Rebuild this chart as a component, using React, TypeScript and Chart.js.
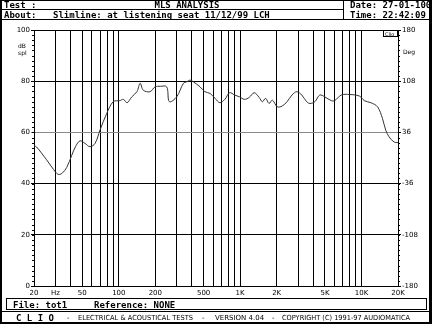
import React, { useEffect, useRef } from "react";
import { Chart, registerables } from "chart.js";

Chart.register(...registerables);

const freqHz = [
  20, 21, 23, 25.4, 28, 30, 31.7, 34, 37.2, 40.9, 44, 47.9, 52.7, 57.9, 63.7, 70, 79.5, 90,
  102, 109, 117, 128, 141, 150, 159, 181, 199, 220, 248, 261, 300, 341, 364, 386, 411, 467,
  512, 566, 621, 680, 747, 820, 900, 988, 1084, 1190, 1305, 1433, 1524, 1623, 1730, 1843,
  2024, 2220, 2437, 2674, 2935, 3220, 3534, 3765, 4131, 4534, 4976, 5640, 6010, 6810, 7975,
  9620, 10560, 11950, 13560, 14880, 15840, 16860, 18510, 20000,
];
const splDb = [
  54.8, 54.3, 52, 49.3, 46.5, 44.6, 43.6, 44, 46.3, 51, 54.5, 56.7, 55.7, 54.4, 55.7, 60.9, 67.4, 72,
  72.4, 72.9, 71.6, 73.9, 75.9, 79.2, 76.5, 75.9, 77.8, 78, 77.8, 72, 73.9, 79.2, 79.8, 80.4, 79.8, 77.8,
  75.9, 75.2, 73.3, 71.6, 72.9, 75.5, 74.6, 73.9, 72.9, 73.7, 75.5, 73.7, 72, 73.3, 71.3, 72.6,
  70, 70.3, 72, 74.6, 75.9, 74.6, 72, 71.3, 72, 74.6, 73.9, 72.4, 72.4, 74.6, 74.8,
  74.2, 72.4, 71.6, 70, 65.5, 60.9, 58.3, 56.3, 56,
];
const gridFreqs = [
  20, 30, 40, 50, 60, 70, 80, 90, 100, 200, 300, 400, 500, 600, 700, 800, 900, 1000,
  2000, 3000, 4000, 5000, 6000, 7000, 8000, 9000, 10000, 20000,
];
const freqLabels: Record<number, string> = {
  20: "20", 30: "Hz", 50: "50", 100: "100", 200: "200", 500: "500", 1000: "1K",
  2000: "2K", 5000: "5K", 10000: "10K", 20000: "20K",
};
const splTicks = [0, 20, 40, 60, 80, 100];
const degTicks = [-180, -108, -36, 36, 108, 180];

const W = 432;
const H = 324;

const framePlugin = {
  id: "frame",
  beforeDraw(chart: any) {
    const ctx = chart.ctx;
    ctx.save();
    ctx.fillStyle = "#fff";
    ctx.fillRect(0, 0, W, H);
    ctx.restore();
  },
  afterDraw(chart: any) {
    const ctx = chart.ctx;
    const ca = chart.chartArea;
    const ys = chart.scales.y;
    ctx.save();
    ctx.strokeStyle = "#000";
    ctx.fillStyle = "#000";
    ctx.lineWidth = 1;
    // minor ticks
    ctx.beginPath();
    for (let v = 0; v <= 100; v += 2) {
      const py = Math.round(ys.getPixelForValue(v)) + 0.5;
      ctx.moveTo(ca.left - 2, py);
      ctx.lineTo(ca.left, py);
      ctx.moveTo(ca.right, py);
      ctx.lineTo(ca.right + 2, py);
    }
    ctx.stroke();
    // frame
    ctx.fillRect(0, 0, 2, H);
    ctx.fillRect(W - 3, 0, 3, H);
    ctx.fillRect(0, 0, W, 1);
    ctx.fillRect(0, H - 2, W, 2);
    ctx.beginPath();
    ctx.moveTo(0, 9.5);
    ctx.lineTo(343, 9.5);
    ctx.moveTo(0, 19.5);
    ctx.lineTo(W, 19.5);
    ctx.moveTo(343.5, 0);
    ctx.lineTo(343.5, 20);
    ctx.moveTo(0, 311.5);
    ctx.lineTo(W, 311.5);
    ctx.stroke();
    ctx.strokeRect(6.5, 298.5, 420, 11);
    // header
    ctx.font = "bold 9px 'DejaVu Sans Mono'";
    ctx.textBaseline = "alphabetic";
    ctx.textAlign = "left";
    ctx.fillText("Test :", 4, 8);
    ctx.fillText("About:", 4, 18);
    ctx.fillText("Slimline: at listening seat 11/12/99 LCH", 53, 18);
    ctx.fillText("Date: 27-01-100", 350, 8);
    ctx.fillText("Time: 22:42:09", 350, 18);
    ctx.textAlign = "center";
    ctx.fillText("MLS ANALYSIS", 187, 8);
    ctx.textAlign = "left";
    ctx.fillText("File: tot1", 13, 307.5);
    ctx.fillText("Reference: NONE", 94, 307.5);
    ctx.fillText("C L I O", 16, 320.5);
    ctx.font = "7px 'DejaVu Sans'";
    ctx.fillText("-", 67, 320);
    ctx.fillText("ELECTRICAL & ACOUSTICAL TESTS", 78, 320, 115);
    ctx.fillText("-", 202, 320);
    ctx.fillText("VERSION 4.04", 215, 320, 50);
    ctx.fillText("-", 272, 320);
    ctx.fillText("COPYRIGHT (C) 1991-97 AUDIOMATICA", 282, 320, 128);
    // axis units
    ctx.font = "6px 'DejaVu Sans'";
    ctx.fillText("dB", 18, 48);
    ctx.fillText("spl", 18, 55);
    ctx.fillText("Deg", 403, 54);
    // Clio box
    ctx.strokeRect(383.5, 30.5, 14, 6);
    ctx.font = "5px 'DejaVu Sans'";
    ctx.fillText("Clio", 385, 36);
    ctx.restore();
  },
};

export default function App() {
  const ref = useRef<HTMLCanvasElement | null>(null);
  useEffect(() => {
    if (!ref.current) return;
    const pts = freqHz.map((f, i) => ({ x: f, y: splDb[i] }));
    const tickFont = { family: "'DejaVu Sans'", size: 7 };
    const chart = new Chart(ref.current, {
      type: "line",
      data: {
        datasets: [
          {
            data: pts,
            borderColor: "#333",
            borderWidth: 1,
            pointRadius: 0,
            tension: 0.35,
            fill: false,
            yAxisID: "y",
          },
        ],
      },
      options: {
        responsive: false,
        animation: false,
        devicePixelRatio: 1,
        layout: { padding: { top: 30, left: 0, right: 0, bottom: 0 } },
        plugins: { legend: { display: false }, tooltip: { enabled: false } },
        scales: {
          x: {
            type: "logarithmic",
            min: 20,
            max: 20000,
            afterFit: (s: any) => {
              s.height = 38;
            },
            afterBuildTicks: (s: any) => {
              s.ticks = gridFreqs.map((v) => ({ value: v }));
            },
            grid: { color: "#000", lineWidth: 1, drawTicks: false },
            border: { color: "#000" },
            ticks: {
              autoSkip: false,
              maxRotation: 0,
              padding: 3,
              color: "#000",
              font: tickFont,
              callback: (v: any) => freqLabels[Number(v)] ?? "",
            },
          },
          y: {
            position: "left",
            min: 0,
            max: 100,
            afterFit: (s: any) => {
              s.width = 34;
            },
            afterBuildTicks: (s: any) => {
              s.ticks = splTicks.map((v) => ({ value: v }));
            },
            grid: {
              color: (c: any) => (c.tick && c.tick.value === 60 ? "#8a8a8a" : "#000"),
              lineWidth: 1,
              tickLength: 3,
            },
            border: { color: "#000" },
            ticks: { padding: 1, color: "#000", font: tickFont },
          },
          y2: {
            position: "right",
            min: -180,
            max: 180,
            afterFit: (s: any) => {
              s.width = 34;
            },
            afterBuildTicks: (s: any) => {
              s.ticks = degTicks.map((v) => ({ value: v }));
            },
            grid: { drawOnChartArea: false, color: "#000", tickLength: 3 },
            border: { color: "#000" },
            ticks: { padding: 1, color: "#000", font: tickFont },
          },
        },
      },
      plugins: [framePlugin],
    } as any);
    return () => chart.destroy();
  }, []);
  return (
    <div style={{ position: "fixed", left: 0, top: 0, width: W, height: H, background: "#fff" }}>
      <canvas ref={ref} width={W} height={H} style={{ width: W, height: H, display: "block" }} />
    </div>
  );
}
